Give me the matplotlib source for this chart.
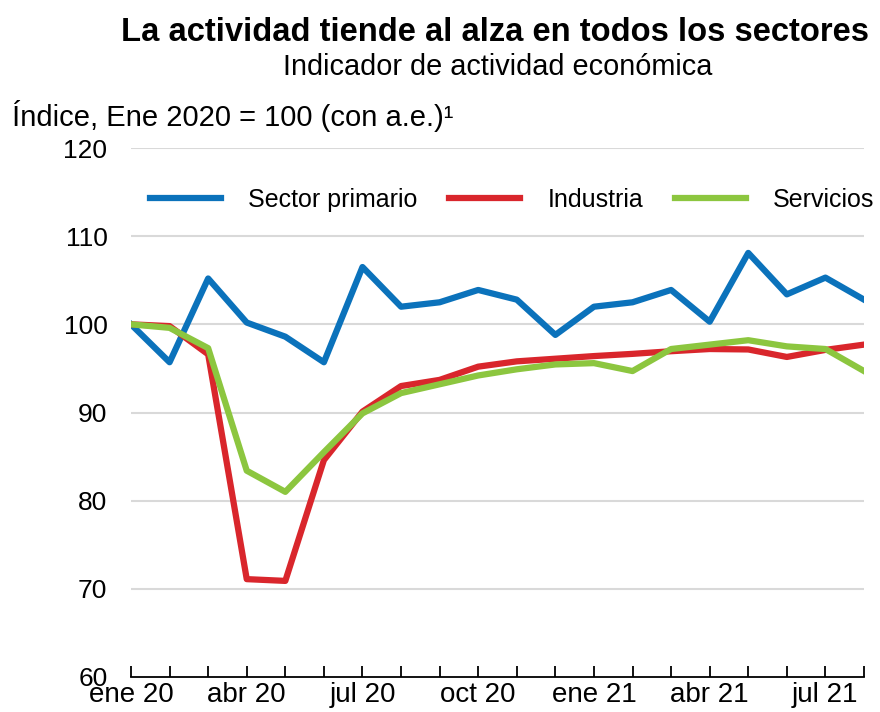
#!/usr/bin/env python3
"""Indicador de actividad económica por sector, ene 2020 - ago 2021."""

import matplotlib
matplotlib.use("Agg")
import matplotlib.pyplot as plt
import numpy as np

plt.rcParams["font.family"] = ["Liberation Sans", "DejaVu Sans"]

months = ["ene 20", "feb 20", "mar 20", "abr 20", "may 20", "jun 20", "jul 20",
          "ago 20", "sep 20", "oct 20", "nov 20", "dic 20", "ene 21", "feb 21",
          "mar 21", "abr 21", "may 21", "jun 21", "jul 21", "ago 21"]
primario = [100, 95.7, 105.2, 100.2, 98.6, 95.7, 106.5, 102.0, 102.5, 103.9,
            102.8, 98.8, 102.0, 102.5, 103.9, 100.3, 108.1, 103.4, 105.3, 102.8]
industria = [100, 99.8, 96.6, 71.1, 70.9, 84.6, 90.1, 93.0, 93.7, 95.2,
             95.8, 96.1, 96.4, 96.65, 96.95, 97.2, 97.15, 96.3, 97.1, 97.7]
servicios = [100, 99.6, 97.3, 83.4, 81.0, 85.5, 89.9, 92.2, 93.2, 94.2,
             94.9, 95.45, 95.6, 94.7, 97.2, 97.7, 98.2, 97.5, 97.2, 94.7]
yticks = [60, 70, 80, 90, 100, 110, 120]

BLUE, RED, GREEN = "#0b72bb", "#d9262c", "#8cc63f"

x = np.arange(len(months))

fig = plt.figure(figsize=(8.8, 7.12), dpi=100)
ax = fig.add_axes([131 / 880, 1 - 677 / 712, 733 / 880, 529 / 712])

for yv in yticks[1:]:
    ax.axhline(yv, color="#d9d9d9", lw=1.5, zorder=0)

ax.plot(x, primario, color=BLUE, lw=4.5, label="Sector primario")
ax.plot(x, industria, color=RED, lw=4.5, label="Industria")
ax.plot(x, servicios, color=GREEN, lw=4.5, label="Servicios")

ax.set_xlim(0, len(months) - 1)
ax.set_ylim(60, 120)
ax.set_xticks(x)
ax.set_xticklabels([m if i % 3 == 0 else "" for i, m in enumerate(months)])
ax.set_yticks(yticks)
ax.tick_params(axis="x", direction="in", length=8, width=1.3, pad=3.5,
               labelsize=20, colors="black")
ax.tick_params(axis="y", length=0, pad=17, labelsize=19)

for s in ("top", "right", "left"):
    ax.spines[s].set_visible(False)
ax.spines["bottom"].set_linewidth(1.3)

ax.legend(loc="center", bbox_to_anchor=(0.52, 0.902), ncol=3, frameon=False,
          fontsize=18, handlelength=2.84, handletextpad=1.08,
          columnspacing=1.28)

fig.text(0.562, 1 - 41 / 712, "La actividad tiende al alza en todos los sectores",
         ha="center", va="baseline", fontsize=23.6, fontweight="bold")
fig.text(0.565, 1 - 75 / 712, "Indicador de actividad económica",
         ha="center", va="baseline", fontsize=20.8)
fig.text(12 / 880, 1 - 126 / 712, "Índice, Ene 2020 = 100 (con a.e.)¹",
         ha="left", va="baseline", fontsize=21)

fig.savefig("out.png", dpi=100)
